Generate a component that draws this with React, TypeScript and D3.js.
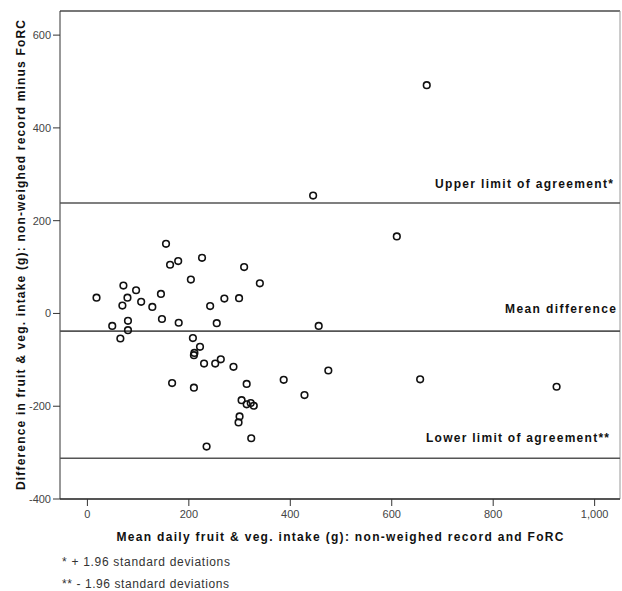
import React from "react";
import * as d3 from "d3";

const meanIntake = [155, 163, 179, 226, 309, 340, 204, 18, 71, 96, 79, 69, 106, 128, 145, 147, 180, 242, 270, 299, 255, 49, 80, 80, 65, 456, 208, 222, 211, 210, 230, 252, 263, 288, 167, 210, 314, 387, 475, 428, 304, 314, 322, 328, 300, 298, 323, 235, 669, 610, 656, 925, 445];
const difference = [150, 105, 113, 120, 100, 65, 73, 34, 60, 50, 34, 17, 25, 14, 42, -12, -20, 16, 32, 33, -21, -27, -16, -36, -54, -27, -53, -72, -85, -90, -108, -108, -99, -115, -150, -160, -152, -143, -123, -176, -187, -196, -193, -199, -222, -235, -269, -287, 492, 166, -142, -158, 254];

const xTicks = [0, 200, 400, 600, 800, 1000];
const yTicks = [-400, -200, 0, 200, 400, 600];

const refValues = [238, -38, -312];
const refLabels = ["Upper limit of agreement*", "Mean difference", "Lower limit of agreement**"];
const footnotes = ["* + 1.96 standard deviations", "** - 1.96 standard deviations"];

const xTitle = "Mean daily fruit & veg. intake (g): non-weighed record and FoRC";
const yTitle = "Difference in fruit & veg. intake (g): non-weighed record minus FoRC";

export default function App() {
  const W = 622, H = 591;
  const left = 60, right = 620, top = 11, bottom = 499;
  const x = d3.scaleLinear().domain([-54, 1050]).range([left, right]);
  const y = d3.scaleLinear().domain([-400, 652]).range([bottom, top]);
  const fmt = d3.format(",");
  const font = "'Liberation Sans', Arial, sans-serif";
  const refLabelLen = [178, 111, 183];
  const refLabelRight = [613, 616, 609];
  const refLabelDy = [-15, -18, -16];
  const footLen = [168, 167];

  return (
    <svg width={W} height={H} style={{ position: "absolute", left: 0, top: 0, background: "#fff" }} fontFamily={font}>
      <rect x={0} y={0} width={W} height={H} fill="#fff" />
      {/* frame */}
      <line x1={left} x2={right} y1={top} y2={top} stroke="#777" strokeWidth={2} />
      <line x1={right} x2={right} y1={top} y2={bottom} stroke="#999" strokeWidth={1} />
      <line x1={left} x2={right} y1={bottom} y2={bottom} stroke="#555" strokeWidth={2} />
      <line x1={left} x2={left} y1={top} y2={bottom} stroke="#333" strokeWidth={1} />
      {/* y ticks */}
      {yTicks.map((t) => (
        <g key={"y" + t}>
          <line x1={left - 7} x2={left} y1={y(t)} y2={y(t)} stroke="#333" />
          <text x={left - 9} y={y(t)} dy="0.35em" textAnchor="end" fontSize={11} fill="#444">{t}</text>
        </g>
      ))}
      {/* x ticks */}
      {xTicks.map((t) => (
        <g key={"x" + t}>
          <line x1={x(t)} x2={x(t)} y1={bottom} y2={bottom + 7} stroke="#333" />
          <text x={x(t)} y={bottom + 19} textAnchor="middle" fontSize={11} fill="#444">{fmt(t)}</text>
        </g>
      ))}
      {/* reference lines */}
      {refValues.map((v, i) => (
        <g key={"r" + i}>
          <line x1={left} x2={right} y1={y(v)} y2={y(v)} stroke="#555" strokeWidth={1.6} />
          <text x={refLabelRight[i]} y={y(v) + refLabelDy[i]} textAnchor="end" fontSize={12} fontWeight="bold" fill="#111"
            textLength={refLabelLen[i]} lengthAdjust="spacing">{refLabels[i]}</text>
        </g>
      ))}
      {/* points */}
      {meanIntake.map((m, i) => (
        <circle key={"p" + i} cx={x(m)} cy={y(difference[i])} r={3.3} fill="none" stroke="#111" strokeWidth={1.6} />
      ))}
      {/* titles */}
      <text x={(left + right) / 2} y={541} textAnchor="middle" fontSize={12} fontWeight="bold" fill="#111"
        textLength={447} lengthAdjust="spacing">{xTitle}</text>
      <text transform={`translate(25,${(top + bottom) / 2}) rotate(-90)`} textAnchor="middle" fontSize={12} fontWeight="bold" fill="#111"
        textLength={470} lengthAdjust="spacing">{yTitle}</text>
      {/* footnotes */}
      {footnotes.map((f, i) => (
        <text key={"f" + i} x={62} y={566 + i * 22} fontSize={12} fill="#333"
          textLength={footLen[i]} lengthAdjust="spacing">{f}</text>
      ))}
    </svg>
  );
}
